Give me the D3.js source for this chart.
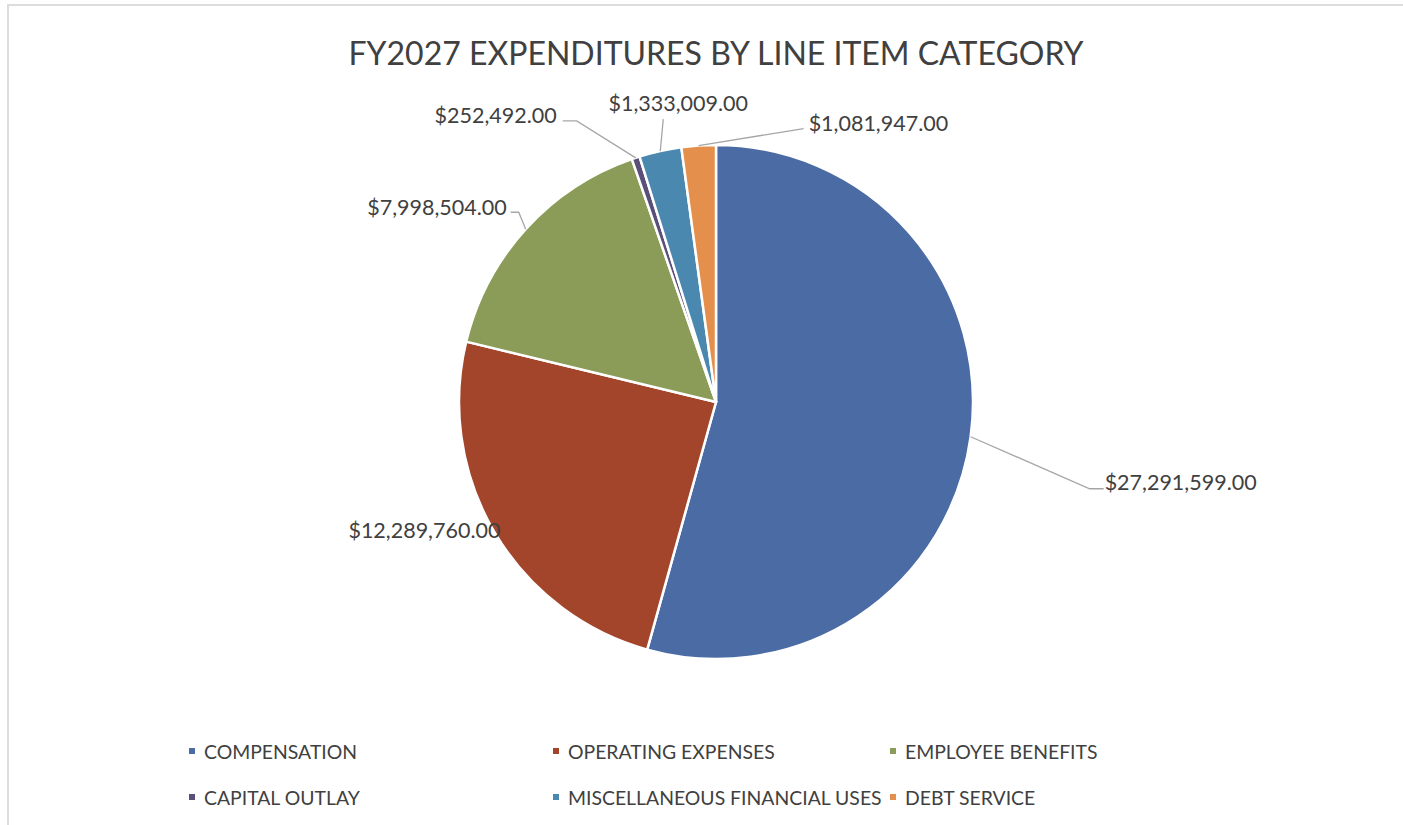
<!DOCTYPE html>
<html>
<head>
<meta charset="utf-8">
<script src="https://cdn.jsdelivr.net/npm/d3@7"></script>
<style>
  html, body { margin: 0; padding: 0; background: #ffffff; }
  svg { display: block; }
  text { font-family: Lato, "Open Sans", "DejaVu Sans", sans-serif; fill: #404040; }
</style>
</head>
<body>
<svg id="chart" width="1403" height="825"></svg>
<script>
// FY2027 expenditures, one entry per line item category
const categories = [
  "COMPENSATION",
  "OPERATING EXPENSES",
  "EMPLOYEE BENEFITS",
  "CAPITAL OUTLAY",
  "MISCELLANEOUS FINANCIAL USES",
  "DEBT SERVICE"
];
const amounts = [27291599, 12289760, 7998504, 252492, 1333009, 1081947];
const sliceColors = ["#4b6ba4", "#a2452b", "#8a9c58", "#5a4f78", "#4a88b0", "#e58f4c"];
const chartTitle = "FY2027 EXPENDITURES BY LINE ITEM CATEGORY";

// Label placement relative to each slice's rim point (dx, dy of elbow and text)
const labelLayout = [
  { elbow: [119, 52],  stub: [133, 52],  text: [134, 45],  anchor: "start" },
  { elbow: null,       stub: null,       text: [6, -2],    anchor: "end" },
  { elbow: [-7, -17],  stub: [-15, -17], text: [-19, -22], anchor: "end" },
  { elbow: [-59, -37], stub: [-73, -37], text: [-79, -43], anchor: "end" },
  { elbow: null,       stub: [3, -32],   text: [18, -48],  anchor: "middle" },
  { elbow: null,       stub: [105, -17], text: [110, -23], anchor: "start" }
];

const svg = d3.select("#chart");

// Outer frame
svg.append("path")
  .attr("d", "M8,825 L8,5 L1403,5")
  .attr("fill", "none")
  .attr("stroke", "#dcdcdc")
  .attr("stroke-width", 2);

// Title
svg.append("text")
  .attr("x", 716)
  .attr("y", 52)
  .attr("text-anchor", "middle")
  .attr("dominant-baseline", "central")
  .style("font-size", "32px")
  .style("fill", "#404040")
  .text(chartTitle);

const cx = 716, cy = 402, R = 257;
const data = categories.map((c, i) => ({ name: c, value: amounts[i], color: sliceColors[i], i }));

const pie = d3.pie().value(d => d.value).sort(null).startAngle(0).endAngle(2 * Math.PI);
const arcs = pie(data);
const arc = d3.arc().innerRadius(0).outerRadius(R);
const rimArc = d3.arc().innerRadius(R).outerRadius(R);

const g = svg.append("g").attr("transform", `translate(${cx},${cy})`);

g.selectAll("path.slice")
  .data(arcs)
  .join("path")
  .attr("class", "slice")
  .attr("d", arc)
  .attr("fill", d => d.data.color)
  .attr("stroke", "#ffffff")
  .attr("stroke-width", 2.5)
  .attr("stroke-linejoin", "round");

const fmt = v => "$" + d3.format(",.2f")(v);

// Data labels with leader lines
arcs.forEach((a, k) => {
  const L = labelLayout[k];
  const [rx, ry] = rimArc.centroid(a);
  const pts = [[rx, ry]];
  if (L.elbow) pts.push([rx + L.elbow[0], ry + L.elbow[1]]);
  if (L.stub) pts.push([rx + L.stub[0], ry + L.stub[1]]);
  if (pts.length > 1) {
    g.append("path")
      .attr("d", d3.line()(pts))
      .attr("fill", "none")
      .attr("stroke", "#a6a6a6")
      .attr("stroke-width", 1.3);
  }
  g.append("text")
    .attr("x", rx + L.text[0])
    .attr("y", ry + L.text[1])
    .attr("text-anchor", L.anchor)
    .attr("dominant-baseline", "central")
    .style("font-size", "21.5px")
    .text(fmt(a.data.value));
});

// Legend: three columns, two rows
const legendCols = [192, 556, 893];
const legendRows = [751, 797];
const legend = svg.append("g");
data.forEach((d, i) => {
  const x = legendCols[i % 3], y = legendRows[Math.floor(i / 3)];
  legend.append("rect")
    .attr("x", x - 3).attr("y", y - 3)
    .attr("width", 6).attr("height", 6)
    .attr("fill", d.color);
  legend.append("text")
    .attr("x", x + 12).attr("y", y)
    .attr("dominant-baseline", "central")
    .style("font-size", "19.4px")
    .text(d.name);
});
</script>
</body>
</html>
